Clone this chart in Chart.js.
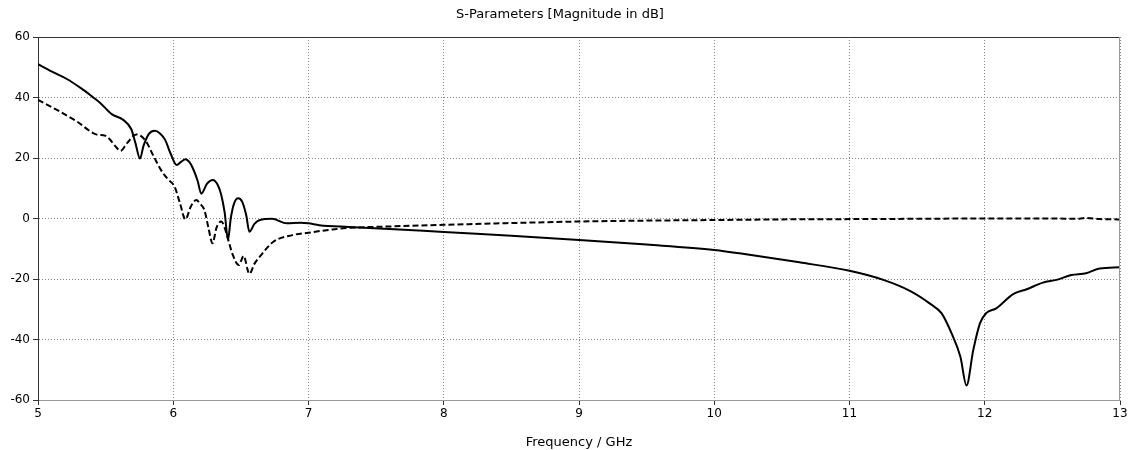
<!DOCTYPE html>
<html>
<head>
<meta charset="utf-8">
<script src="https://cdn.jsdelivr.net/npm/chart.js@4"></script>
<style>
  html, body { margin: 0; padding: 0; background: #fff; }
  #wrap { width: 1136px; height: 450px; }
</style>
</head>
<body>
<div id="wrap"><canvas id="sparamChart"></canvas></div>
<script>
// S11 (solid)
const freqS11 = [5.00, 5.10, 5.21, 5.32, 5.40, 5.46, 5.545, 5.63, 5.69, 5.72, 5.754, 5.78, 5.82, 5.865, 5.90, 5.94, 5.98, 6.025, 6.06, 6.09, 6.12, 6.145, 6.18, 6.207, 6.25, 6.293, 6.33, 6.355, 6.38, 6.405, 6.425, 6.45, 6.48, 6.51, 6.54, 6.563, 6.60, 6.64, 6.73, 6.84, 6.94, 7.00, 7.08, 7.30, 7.67, 8.0, 8.5, 9.0, 9.5, 10.0, 10.26, 10.63, 11.0, 11.25, 11.45, 11.6, 11.68, 11.755, 11.82, 11.865, 11.915, 11.965, 12.01, 12.085, 12.21, 12.31, 12.43, 12.53, 12.64, 12.75, 12.85, 13.0];
const s11 = [51.0, 48.6, 46.2, 43.0, 40.3, 38.2, 34.5, 32.6, 29.5, 25, 19.8, 24, 28, 29.0, 28.2, 26, 21.5, 17.7, 18.8, 19.6, 18.6, 16.6, 12.5, 8.2, 11.5, 12.7, 11, 7.8, 2, -7.0, 0, 5, 6.7, 5.5, 1, -4.4, -1.8, -0.5, -0.1, -1.6, -1.4, -1.6, -2.2, -2.8, -3.6, -4.5, -5.7, -7.1, -8.6, -10.4, -12.0, -14.5, -17.3, -20.3, -24, -28.3, -31.3, -38, -45.7, -55.2, -43.5, -34.6, -31.3, -29.7, -25, -23.4, -21.2, -20.3, -18.7, -18.1, -16.5, -16.1];

// S21 (dashed)
const freqS21 = [5.00, 5.14, 5.29, 5.43, 5.50, 5.53, 5.57, 5.61, 5.66, 5.726, 5.76, 5.80, 5.85, 5.91, 5.96, 6.01, 6.05, 6.09, 6.13, 6.17, 6.20, 6.23, 6.26, 6.29, 6.32, 6.355, 6.38, 6.40, 6.44, 6.485, 6.52, 6.563, 6.60, 6.64, 6.74, 6.88, 7.00, 7.18, 7.30, 7.55, 8.0, 8.5, 9.0, 9.5, 10.0, 10.5, 11.0, 11.5, 12.0, 12.5, 12.7, 12.75, 12.85, 13.0];
const s21 = [39.2, 35.9, 32.0, 27.8, 27.3, 26.2, 24, 22.4, 25, 27.8, 27.3, 25.4, 21, 16, 13, 10.5, 5, -0.3, 4, 6.1, 4.8, 2.8, -3, -8.2, -3, -1, -3, -6, -12, -15.4, -12.4, -18.3, -15, -12.6, -7.7, -5.5, -4.7, -3.6, -3.1, -2.7, -2.1, -1.5, -1.0, -0.7, -0.5, -0.3, -0.2, -0.1, 0, 0, -0.1, 0.2, -0.2, -0.3];

const xTicks = [5, 6, 7, 8, 9, 10, 11, 12, 13];
const yTicks = [-60, -40, -20, 0, 20, 40, 60];

const toPoints = (xs, ys) => xs.map((x, i) => ({ x: x, y: ys[i] }));

// solid top and right edges of the plot box
const frameLines = {
  id: 'frameLines',
  afterDatasetsDraw(chart) {
    const a = chart.chartArea, ctx = chart.ctx;
    ctx.save();
    ctx.lineWidth = 1;
    ctx.strokeStyle = '#333';
    ctx.beginPath();
    ctx.moveTo(a.left, a.top + 0.5);
    ctx.lineTo(a.right, a.top + 0.5);
    ctx.stroke();
    ctx.strokeStyle = '#999';
    ctx.beginPath();
    ctx.moveTo(a.right - 0.5, a.top);
    ctx.lineTo(a.right - 0.5, a.bottom);
    ctx.stroke();
    ctx.restore();
  }
};

const tickFont = { family: 'DejaVu Sans', size: 12 };
const titleFont = { family: 'DejaVu Sans', size: 13, weight: 'normal' };

new Chart(document.getElementById('sparamChart').getContext('2d'), {
  type: 'line',
  data: {
    datasets: [{
      label: 'S11',
      data: toPoints(freqS11, s11),
      borderColor: '#000',
      borderWidth: 2,
      pointRadius: 0,
      cubicInterpolationMode: 'monotone',
      fill: false
    }, {
      label: 'S21',
      data: toPoints(freqS21, s21),
      borderColor: '#000',
      borderWidth: 2,
      borderDash: [6, 3],
      pointRadius: 0,
      cubicInterpolationMode: 'monotone',
      fill: false
    }]
  },
  options: {
    responsive: true,
    maintainAspectRatio: false,
    animation: false,
    layout: { padding: { left: 0, right: 16, top: 0, bottom: 0 } },
    plugins: {
      legend: { display: false },
      tooltip: { enabled: false },
      title: {
        display: true,
        text: 'S-Parameters [Magnitude in dB]',
        color: '#000',
        font: titleFont,
        padding: { top: 7, bottom: 14.4 }
      }
    },
    scales: {
      x: {
        type: 'linear',
        min: 5,
        max: 13,
        afterBuildTicks: (s) => { s.ticks = xTicks.map(v => ({ value: v })); },
        afterFit: (s) => { s.height = 50; },
        ticks: { color: '#000', font: tickFont, padding: 2, maxRotation: 0 },
        grid: { color: '#888', tickLength: 5, tickColor: '#333' },
        border: { color: '#999', dash: [1, 2] },
        title: { display: true, text: 'Frequency / GHz', color: '#000', font: titleFont, padding: { top: 4, bottom: 0 } }
      },
      y: {
        min: -60,
        max: 60,
        afterBuildTicks: (s) => { s.ticks = yTicks.map(v => ({ value: v })); },
        afterFit: (s) => { s.width = 38; },
        ticks: { color: '#000', font: tickFont, padding: 3 },
        grid: { color: '#888', tickLength: 5, tickColor: '#333' },
        border: { color: '#333', dash: [1, 2] }
      }
    }
  },
  plugins: [frameLines]
});
</script>
</body>
</html>
